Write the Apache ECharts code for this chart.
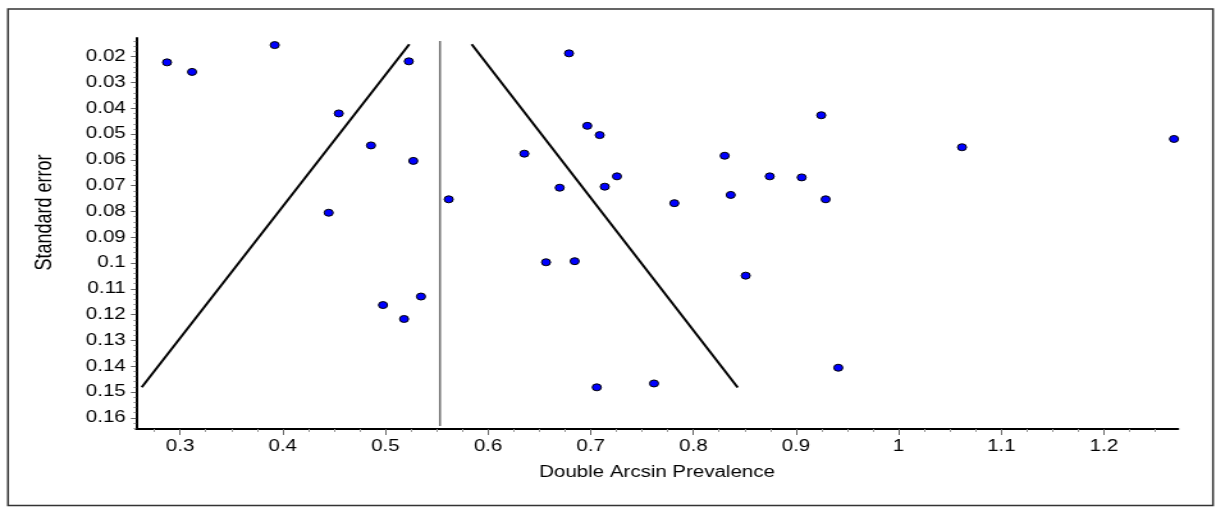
<!DOCTYPE html>
<html>
<head>
<meta charset="utf-8">
<title>Funnel plot</title>
<script src="https://cdn.jsdelivr.net/npm/echarts@6/dist/echarts.min.js"></script>
<style>
  html, body { margin: 0; padding: 0; background: #fff; overflow: hidden; }
  #stage { width: 1216px; height: 507px; overflow: hidden; }
  /* the plot is laid out on a narrower canvas and widened horizontally */
  #chart { width: 950px; height: 507px; transform: scaleX(1.28); transform-origin: 0 0; }
</style>
</head>
<body>
<div id="stage"><div id="chart"></div></div>
<script>
// Study estimates: double arcsine transformed prevalence and its standard error
const studyEffect = [
  0.2873, 0.3117, 0.3922, 0.5228, 0.4546, 0.4860, 0.5272, 0.4448,
  0.6789, 0.6967, 0.7088, 0.6354, 0.8305, 0.7256, 0.6698, 0.7137,
  0.5617, 0.7815, 0.8364, 0.9246, 1.0617, 0.8744, 0.9055, 0.9289,
  1.2682, 0.6565, 0.6844, 0.7059, 0.7617, 0.8510, 0.9412, 0.5347,
  0.4977, 0.5182
];
const studyStdErr = [
  0.0222, 0.0259, 0.0155, 0.0218, 0.0420, 0.0544, 0.0604, 0.0805,
  0.0187, 0.0468, 0.0504, 0.0576, 0.0584, 0.0664, 0.0708, 0.0704,
  0.0753, 0.0768, 0.0736, 0.0427, 0.0551, 0.0664, 0.0668, 0.0753,
  0.0519, 0.0997, 0.0993, 0.1482, 0.1467, 0.1049, 0.1406, 0.1130,
  0.1163, 0.1217
];

// Pooled estimate and pseudo 95% confidence limits
const pooledEffect = 0.5532;
const pooledLineSE = [0.0139, 0.1632];
const limitLowerX = [0.2627, 0.5233];
const limitLowerSE = [0.1482, 0.0152];
const limitUpperX = [0.5841, 0.8432];
const limitUpperSE = [0.0152, 0.1483];

// Axes
const xRange = [0.2571, 1.2721];
const yRange = [0.01275, 0.16436];
const xTicks = [0.3, 0.4, 0.5, 0.6, 0.7, 0.8, 0.9, 1.0, 1.1, 1.2];
const yTicks = [0.02, 0.03, 0.04, 0.05, 0.06, 0.07, 0.08, 0.09, 0.10,
                0.11, 0.12, 0.13, 0.14, 0.15, 0.16];
const xTitle = 'Double Arcsin Prevalence';
const yTitle = 'Standard error';

// minor ticks: quarters on x, fifths on y
const xMinor = [];
for (let k = Math.ceil(xRange[0] / 0.025); k * 0.025 <= xRange[1]; k++) {
  if (k % 4 !== 0) xMinor.push(+(k * 0.025).toFixed(4));
}
const yMinor = [];
for (let k = Math.ceil(yRange[0] / 0.002); k * 0.002 <= yRange[1]; k++) {
  if (k % 5 !== 0) yMinor.push(+(k * 0.002).toFixed(4));
}

const FONT = "'Liberation Sans', Arial, sans-serif";
const fmt = v => String(parseFloat(Number(v).toFixed(2)));

const pairs = (xs, ys) => xs.map((x, i) => [x, ys[i]]);

const chart = echarts.init(document.getElementById('chart'), null, { renderer: 'canvas' });

const baseX = {
  type: 'value', gridIndex: 0, position: 'bottom',
  min: xRange[0], max: xRange[1], splitLine: { show: false }
};
const baseY = {
  type: 'value', gridIndex: 0, position: 'left', inverse: true,
  min: yRange[0], max: yRange[1], splitLine: { show: false }
};

chart.setOption({
  animation: false,
  backgroundColor: '#ffffff',
  grid: { left: 106.25, right: 29.7, top: 38, bottom: 78, containLabel: false, outerBoundsMode: 'none' },
  xAxis: [
    Object.assign({}, baseX, {
      name: xTitle, nameLocation: 'middle', nameGap: 36,
      nameTextStyle: { fontSize: 16, color: '#000', fontFamily: FONT },
      axisLine: { show: true, onZero: false, lineStyle: { color: '#000', width: 2 } },
      axisTick: { show: true, customValues: xTicks, length: 6, lineStyle: { color: '#666', width: 1 } },
      axisLabel: { customValues: xTicks, formatter: fmt, fontSize: 16, color: '#000', fontFamily: FONT, margin: 10 }
    }),
    Object.assign({}, baseX, {
      axisLine: { show: false, onZero: false },
      axisTick: { show: true, customValues: xMinor, length: 3, lineStyle: { color: '#999', width: 1 } },
      axisLabel: { show: false }
    })
  ],
  yAxis: [
    Object.assign({}, baseY, {
      axisLine: { show: true, onZero: false, lineStyle: { color: '#000', width: 2 } },
      axisTick: { show: true, customValues: yTicks, length: 4, lineStyle: { color: '#666', width: 1 } },
      axisLabel: { customValues: yTicks, formatter: fmt, fontSize: 16, color: '#000', fontFamily: FONT, margin: 8 }
    }),
    Object.assign({}, baseY, {
      axisLine: { show: false, onZero: false },
      axisTick: { show: true, customValues: yMinor, length: 2, lineStyle: { color: '#999', width: 1 } },
      axisLabel: { show: false }
    })
  ],
  graphic: [
    {
      type: 'rect', z: 0, silent: true,
      shape: { x: 6.25, y: 9, width: 941.4, height: 496.5 },
      style: { fill: 'none', stroke: '#333', lineWidth: 1.5 }
    },
    {
      type: 'text', x: 35.2, y: 212.5, rotation: Math.PI / 2, silent: true,
      style: {
        text: yTitle, fontSize: 18, fontFamily: FONT, fill: '#000',
        align: 'center', verticalAlign: 'middle'
      }
    }
  ],
  series: [
    {
      name: 'Pooled estimate', type: 'line', xAxisIndex: 0, yAxisIndex: 0,
      data: pooledLineSE.map(se => [pooledEffect, se]),
      symbol: 'none', lineStyle: { color: '#6b6b6b', width: 1.5 }, z: 2
    },
    {
      name: 'Lower limit', type: 'line', xAxisIndex: 0, yAxisIndex: 0,
      data: pairs(limitLowerX, limitLowerSE),
      symbol: 'none', lineStyle: { color: '#000', width: 2 }, z: 2
    },
    {
      name: 'Upper limit', type: 'line', xAxisIndex: 0, yAxisIndex: 0,
      data: pairs(limitUpperX, limitUpperSE),
      symbol: 'none', lineStyle: { color: '#000', width: 2 }, z: 2
    },
    {
      name: 'Studies', type: 'scatter', xAxisIndex: 0, yAxisIndex: 0,
      data: pairs(studyEffect, studyStdErr),
      symbol: 'circle', symbolSize: 7,
      itemStyle: { color: '#0000ff', borderColor: '#000', borderWidth: 1, opacity: 1 },
      z: 3
    }
  ]
});
</script>
</body>
</html>
